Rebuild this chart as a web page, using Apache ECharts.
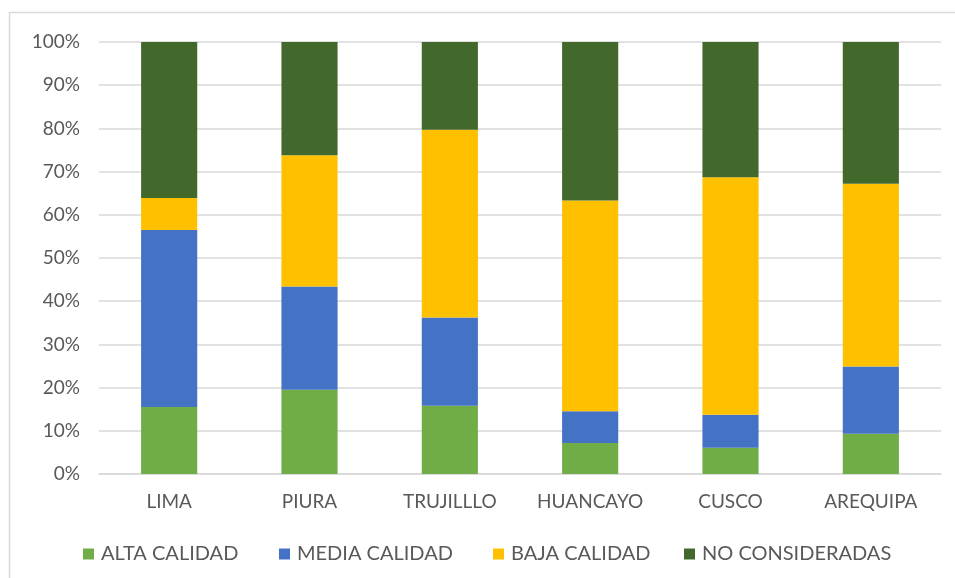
<!DOCTYPE html>
<html><head><meta charset="utf-8">
<script src="https://cdn.jsdelivr.net/npm/echarts@6/dist/echarts.min.js"></script>
<style>html,body{margin:0;padding:0;background:#fff}#c{width:955px;height:578px}</style>
</head><body><div id="c"></div>
<script>
const categories = ['LIMA','PIURA','TRUJILLLO','HUANCAYO','CUSCO','AREQUIPA'];
const seriesNames = ['ALTA CALIDAD','MEDIA CALIDAD','BAJA CALIDAD','NO CONSIDERADAS'];
const alta = [15.5, 19.5, 15.8, 7.2, 6.1, 9.3];
const media = [41.0, 23.9, 20.4, 7.3, 7.6, 15.6];
const baja = [7.4, 30.4, 43.5, 48.8, 55.0, 42.3];
const noCons = [36.1, 26.2, 20.3, 36.7, 31.3, 32.8];
const yTicks = [0,10,20,30,40,50,60,70,80,90,100];
const colors = ['#70AD47','#4472C4','#FFC000','#43682B'];

const font = 'Lato, "Open Sans", sans-serif';
const legendLeft = [78, 274, 488, 679];
const chart = echarts.init(document.getElementById('c'), null, {renderer:'canvas'});
const data = [alta, media, baja, noCons];
chart.setOption({
  animation:false,
  graphic:[{type:'rect', shape:{x:9.5,y:12.5,width:960,height:580}, style:{fill:'none',stroke:'#d9d9d9',lineWidth:1.5}, silent:true}],
  grid:{left:99, right:14, top:42, bottom:104},
  legend: seriesNames.map((n,i)=>({top:539, left:legendLeft[i], itemWidth:11, itemHeight:11, icon:'rect',
    textStyle:{color:'#595959', fontSize:20, fontFamily:font, padding:[0,0,0,2]}, data:[n]})),
  xAxis:{type:'category', data:categories,
    axisLine:{lineStyle:{color:'#d9d9d9', width:1.5}}, axisTick:{show:false},
    axisLabel:{color:'#595959', fontSize:19, fontFamily:font, margin:18}},
  yAxis:{type:'value', min:0, max:100, interval:10,
    axisLabel:{color:'#595959', fontSize:19, fontFamily:font, margin:19, formatter:v=>v+'%'},
    axisLine:{show:false}, axisTick:{show:false},
    splitLine:{lineStyle:{color:'#d9d9d9', width:1.5}}},
  series: seriesNames.map((n,i)=>({name:n, type:'bar', stack:'t', barWidth:'40%',
    itemStyle:{color:colors[i]}, data:data[i]}))
});
</script></body></html>
